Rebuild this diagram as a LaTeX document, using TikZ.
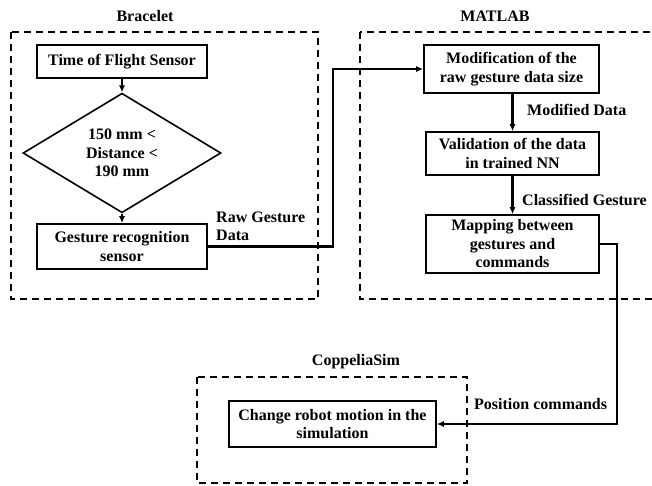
\documentclass[tikz,border=0pt]{standalone}
\usepackage{fontspec}
\setmainfont{Liberation Serif}
\usetikzlibrary{arrows.meta,shapes.geometric,calc}
\tikzset{
  procbox/.style={draw, line width=1.6pt, align=center, inner sep=0pt, font=\bfseries\fontsize{16}{18.5}\selectfont},
  decbox/.style={draw, diamond, line width=1.6pt, align=center, inner sep=0pt, font=\bfseries\fontsize{16}{18.5}\selectfont},
  frame/.style={draw, line width=1.6pt, dash pattern=on 7pt off 5pt},
  ttl/.style={font=\bfseries\fontsize{16}{18.5}\selectfont, inner sep=0pt},
  lbl/.style={font=\bfseries\fontsize{16}{18.5}\selectfont, align=left, inner sep=0pt, anchor=west},
  conn/.style={line width=2.2pt, -{Latex[length=7pt,width=6pt]}},
}
\begin{document}
\begin{tikzpicture}[x=1pt,y=-1pt]
\useasboundingbox (0,0) rectangle (652,485);
% frames
\draw[frame] (11,32) rectangle (318,299);
\draw[frame] (360,32) rectangle (664,299);
\draw[frame] (197,377) rectangle (467,483);
\node[ttl] (tbr) at (145,16) {Bracelet};
\node[ttl] (tma) at (495,16) {MATLAB};
\node[ttl] (tco) at (356,362) {CoppeliaSim};
% bracelet nodes
\node[procbox, minimum width=170pt, minimum height=33pt] (tof) at (122,61.5) {Time of Flight Sensor};
\node[decbox, minimum width=198pt, minimum height=108pt] (dia) at (122,153) {150 mm {<}\\Distance {<}\\190 mm};
\node[procbox, minimum width=170pt, minimum height=45pt] (gest) at (122,246.5) {Gesture recognition\\sensor};
% matlab nodes
\node[procbox, minimum width=175pt, minimum height=48pt] (mod) at (511.5,69) {Modification of the\\raw gesture data size};
\node[procbox, minimum width=173pt, minimum height=43pt] (val) at (512.5,153.5) {Validation of the data\\in trained NN};
\node[procbox, minimum width=173pt, minimum height=58pt] (map) at (512.5,244) {Mapping between\\gestures and\\commands};
% coppelia node
\node[procbox, minimum width=207pt, minimum height=46pt] (chg) at (332.5,424) {Change robot motion in the\\simulation};
% labels
\node[lbl] (lraw) at (216,226.5) {Raw Gesture\\Data};
\node[lbl] (lmod) at (527,110) {Modified Data};
\node[lbl] (lcls) at (522,200) {Classified Gesture};
\node[lbl] (lpos) at (474,404) {Position commands};
% connectors
\draw[conn] (tof) -- (dia);
\draw[conn] (dia) -- (gest);
\draw[conn] (mod.south -| val.north) -- (val.north);
\draw[conn] (val) -- (map);
\coordinate (j1) at (333,246.5);
\draw[conn] (gest.east) -- (j1) |- (mod.west);
\coordinate (j2) at (617,424);
\draw[conn] (map.east) -| (j2) -- (chg.east);
\end{tikzpicture}
\end{document}
